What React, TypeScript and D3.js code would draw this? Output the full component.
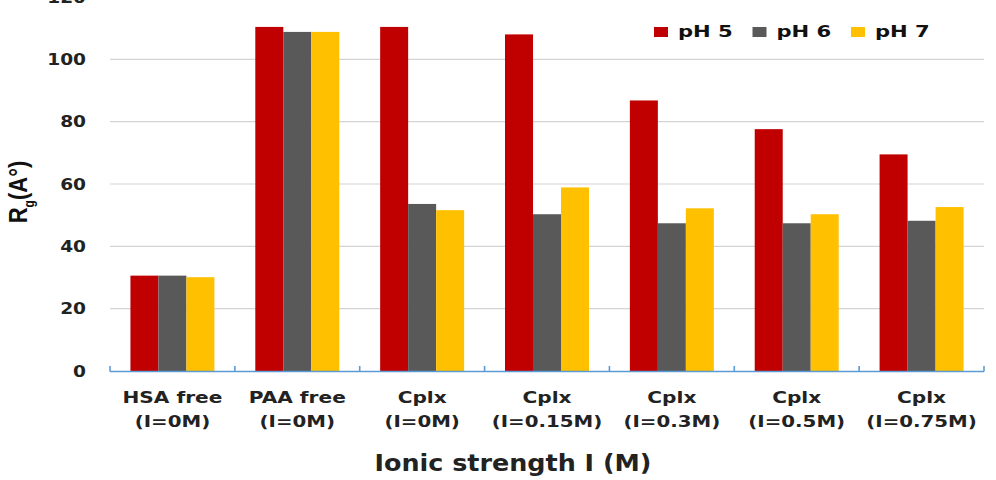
import React from "react";
import * as d3 from "d3";

// categories along the x axis (two label lines each)
const categories = ["HSA free", "PAA free", "Cplx", "Cplx", "Cplx", "Cplx", "Cplx"];
const subLabels = ["(I=0M)", "(I=0M)", "(I=0M)", "(I=0.15M)", "(I=0.3M)", "(I=0.5M)", "(I=0.75M)"];

const seriesNames = ["pH 5", "pH 6", "pH 7"];
const seriesColors = ["#C00000", "#595959", "#FFC000"];

// Rg values (Å)
const ph5 = [30.6, 110.4, 110.4, 108.0, 86.8, 77.6, 69.5];
const ph6 = [30.6, 108.8, 53.6, 50.3, 47.4, 47.4, 48.2];
const ph7 = [30.1, 108.8, 51.6, 58.9, 52.2, 50.3, 52.6];

const yTicks = [0, 20, 40, 60, 80, 100, 120];

const W = 996;
const H = 480;
const FONT = "'DejaVu Sans', Verdana, sans-serif";

export default function App() {
  const keys = categories.map((c, i) => `${i}`);
  const values = [ph5, ph6, ph7];

  // outer band per category, inner band per series
  const x = d3.scaleBand().domain(keys).range([110, 984]).paddingInner(0).paddingOuter(0);
  const xs = d3.scaleBand().domain(seriesNames).range([0, x.bandwidth()]).paddingInner(0).paddingOuter(0.73);
  const y = d3.scaleLinear().domain([0, 120]).range([371, -3]);

  const left = x.range()[0];
  const right = x.range()[1];
  const boundaries = d3.range(categories.length + 1).map((i) => left + i * x.step());

  return (
    <svg width={W} height={H} style={{ position: "absolute", left: 0, top: 0, background: "#fff" }}>
      {/* gridlines */}
      <g>
        {yTicks.filter((t) => t > 0).map((t) => (
          <line key={t} x1={left} x2={right} y1={y(t)} y2={y(t)} stroke="#d4d4d4" strokeWidth={1.2} />
        ))}
      </g>

      {/* y tick labels (120 sits at the top edge, cut off as in the original) */}
      <g fontFamily={FONT} fontWeight="bold" fontSize={15.5} fill="#222">
        {yTicks.map((t) => (
          <text key={t} transform={`translate(86,${y(t) + 5.8}) scale(1.2,1)`} textAnchor="end">
            {t}
          </text>
        ))}
      </g>

      {/* bars */}
      {values.map((vals, s) => (
        <g key={s} fill={seriesColors[s]}>
          {vals.map((v, i) => (
            <rect
              key={i}
              x={(x(keys[i]) as number) + (xs(seriesNames[s]) as number)}
              y={y(v)}
              width={xs.bandwidth()}
              height={y(0) - y(v)}
            />
          ))}
        </g>
      ))}

      {/* x axis */}
      <g stroke="#5B9BD5" strokeWidth={1.6}>
        <line x1={left} x2={right} y1={y(0) + 0.5} y2={y(0) + 0.5} />
        {boundaries.map((b, i) => (
          <line key={i} x1={b} x2={b} y1={y(0) - 5} y2={y(0) + 0.5} />
        ))}
      </g>

      {/* category labels */}
      <g fontFamily={FONT} fontWeight="bold" fontSize={16.5} fill="#222" textAnchor="middle">
        {keys.map((k, i) => {
          const cx = (x(k) as number) + x.bandwidth() / 2;
          return (
            <g key={k}>
              <text transform={`translate(${cx},403) scale(1.22,1)`}>{categories[i]}</text>
              <text transform={`translate(${cx},427) scale(1.2,1)`}>{subLabels[i]}</text>
            </g>
          );
        })}
      </g>

      {/* x axis title */}
      <text
        transform="translate(513,471) scale(1.13,1)"
        textAnchor="middle"
        fontFamily={FONT}
        fontWeight="bold"
        fontSize={22.5}
        fill="#222"
      >
        Ionic strength I (M)
      </text>

      {/* y axis title */}
      <text
        transform="translate(27,192) rotate(-90) scale(1,1.15)"
        textAnchor="middle"
        fontFamily="'Liberation Sans', Arial, sans-serif"
        fontWeight="bold"
        fontSize={22}
        fill="#111"
      >
        R<tspan fontSize={12} dy={6}>g</tspan>
        <tspan dy={-6}>(A°)</tspan>
      </text>

      {/* legend */}
      <g fontFamily={FONT} fontWeight="bold" fontSize={16} fill="#111">
        {seriesNames.map((n, i) => {
          const lx = 654 + i * 98.5;
          return (
            <g key={n}>
              <rect x={lx} y={27} width={14} height={10} fill={seriesColors[i]} />
              <text transform={`translate(${lx + 24},36.7) scale(1.32,1)`}>{n}</text>
            </g>
          );
        })}
      </g>
    </svg>
  );
}
